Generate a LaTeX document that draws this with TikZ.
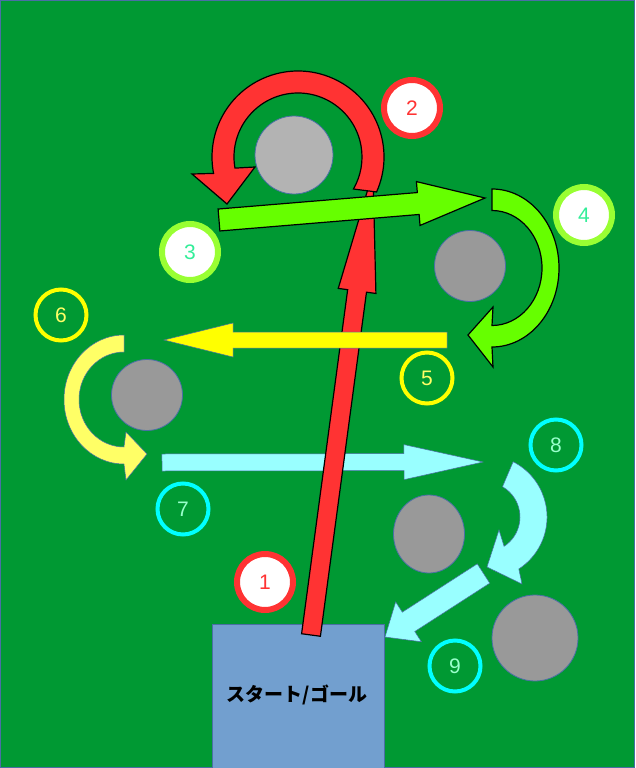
\documentclass[tikz,border=0pt]{standalone}
\usepackage{fontspec}
\setmainfont{Liberation Sans}
\newfontfamily\jpfont{Noto Sans CJK JP}
\usetikzlibrary{calc}
\definecolor{bg}{HTML}{009933}
\definecolor{edge}{HTML}{4A6FA5}
\definecolor{boxfill}{HTML}{729FCF}
\definecolor{redA}{HTML}{FF3333}
\definecolor{greenA}{HTML}{66FF00}
\definecolor{greenRing}{HTML}{99FF33}
\definecolor{greenText}{HTML}{33EE99}
\definecolor{yellowA}{HTML}{FFFF00}
\definecolor{yellowB}{HTML}{FFFF66}
\definecolor{cyanA}{HTML}{99FFFF}
\definecolor{cyanRing}{HTML}{00FFFF}
\definecolor{cyanText}{HTML}{99FFCC}
\definecolor{grayA}{HTML}{999999}
\definecolor{grayB}{HTML}{B3B3B3}
\tikzset{
  obst/.style={fill=grayA, draw=edge, line width=0.8pt},
  obstlight/.style={fill=grayB, draw=edge, line width=0.8pt},
  startbox/.style={rectangle, fill=boxfill, draw=edge, line width=0.8pt, inner sep=0pt},
  numbig/.style={circle, fill=white, line width=6pt, minimum size=56pt, inner sep=0pt, font=\fontsize{21}{21}\selectfont},
  numsmall/.style={circle, line width=4pt, minimum size=51pt, inner sep=0pt, font=\fontsize{21}{21}\selectfont},
  redarrow/.style={fill=redA, draw=black, line width=1.2pt, line join=miter},
  greenarrow/.style={fill=greenA, draw=black, line width=1.2pt, line join=miter},
  yellowarrow/.style={fill=yellowA, draw=edge, line width=0.5pt},
  paleyellowarrow/.style={fill=yellowB, draw=edge, line width=0.5pt},
  cyanarrow/.style={fill=cyanA, draw=edge, line width=0.5pt},
}
% #1 name, #2 style, #3 start, #4 tip, #5 shaft half width, #6 head half width, #7 head length
\newcommand{\fatarrow}[7]{%
  \coordinate (#1b) at ($(#4)!#7!(#3)$);
  \draw[#2] ($(#3)!#5!90:(#4)$) -- ($(#1b)!#5!90:(#4)$) -- ($(#1b)!#6!90:(#4)$) -- (#4)
    -- ($(#1b)!#6!-90:(#4)$) -- ($(#1b)!#5!-90:(#4)$) -- ($(#3)!#5!-90:(#4)$) -- cycle;
}
\begin{document}
\begin{tikzpicture}[x=1pt,y=1pt,yscale=-1]
\useasboundingbox (0,0) rectangle (635,768);
\fill[bg] (0,0) rectangle (635,768);
\draw[edge, line width=1pt] (0.5,0.5) rectangle (634.5,767.5);

% obstacles
\draw[obstlight] (294,155) circle[radius=39];
\draw[obst] (470,266) circle[radius=35.5];
\draw[obst] (147,395) circle[radius=35.5];
\draw[obst] (429,534) ellipse[x radius=35.5, y radius=39];
\draw[obst] (535,638) circle[radius=43];

% start / goal
\node[startbox, minimum width=172pt, minimum height=146pt] (start) at (298,697) {};
\node (starttext) at (297,695) {\jpfont\bfseries\fontsize{19}{19}\selectfont スタート/ゴール};

% coordinates for straight arrows
\coordinate (a1s) at (311,635);
\coordinate (a1t) at (373,172);
\coordinate (a3s) at (219,220);
\coordinate (a3t) at (485,198);
\coordinate (a5s) at (447,340);
\coordinate (a5t) at (164,340);
\coordinate (a7s) at (162,462.5);
\coordinate (a7t) at (483,462);
\coordinate (a9s) at (483.5,573.5);
\coordinate (a9t) at (385,637);
\coordinate (c2) at (298,157);
\coordinate (c4) at (492,268);
\coordinate (c6) at (124,399.5);
\coordinate (c8) at (485,517);

% cyan arrows (7, 8, 9)
\fatarrow{a7}{cyanarrow}{a7s}{a7t}{8.5pt}{17.5pt}{79pt}
\draw[cyanarrow] ($(c8)+(-63:62)$) arc[start angle=-63, end angle=57, radius=62]
  -- (522,584) -- (487,567) -- (499,530) -- ($(c8)+(57:35)$)
  arc[start angle=57, end angle=-60, radius=35] -- cycle;
\fatarrow{a9}{cyanarrow}{a9s}{a9t}{11.5pt}{23.7pt}{28pt}

% red arrows (1, 2)
\fatarrow{a1}{redarrow}{a1s}{a1t}{9.5pt}{19pt}{120pt}
\draw[redarrow] ($(c2)+(24:86)$) arc[start angle=24, end angle=-191, radius=86]
  -- (192,174) -- (227,204) -- (255,167) -- ($(c2)+(-190:64)$)
  arc[start angle=-190, end angle=30, radius=64] -- cycle;

% green arrows (3, 4)
\fatarrow{a3}{greenarrow}{a3s}{a3t}{11pt}{22pt}{67pt}
\draw[greenarrow] (492,189) arc[start angle=-90, end angle=90, x radius=67, y radius=79]
  -- (493,367) -- (468,335) -- (493,307) -- (492,325.5)
  arc[start angle=90, end angle=-90, x radius=50, y radius=57.5] -- cycle;

% yellow arrows (5, 6)
\fatarrow{a5}{yellowarrow}{a5s}{a5t}{8pt}{17pt}{69pt}
\draw[paleyellowarrow] (124,335) arc[start angle=-90, end angle=-270, x radius=60, y radius=64.5]
  -- (126,480) -- (147,454) -- (126,432) -- (124,447)
  arc[start angle=-270, end angle=-90, x radius=45, y radius=47.5] -- cycle;

% step numbers
\node[numbig, draw=redA, text=redA] (n1) at (265,582) {1};
\node[numbig, draw=redA, text=redA] (n2) at (412,108) {2};
\node[numbig, draw=greenRing, text=greenText] (n3) at (190,252) {3};
\node[numbig, draw=greenRing, text=greenText] (n4) at (584,215) {4};
\node[numsmall, draw=yellowA, text=yellowB] (n5) at (427,378) {5};
\node[numsmall, draw=yellowA, text=yellowB] (n6) at (61,315) {6};
\node[numsmall, draw=cyanRing, text=cyanText] (n7) at (183,509) {7};
\node[numsmall, draw=cyanRing, text=cyanText] (n8) at (556,445) {8};
\node[numsmall, draw=cyanRing, text=cyanText] (n9) at (455,666) {9};
\end{tikzpicture}
\end{document}
